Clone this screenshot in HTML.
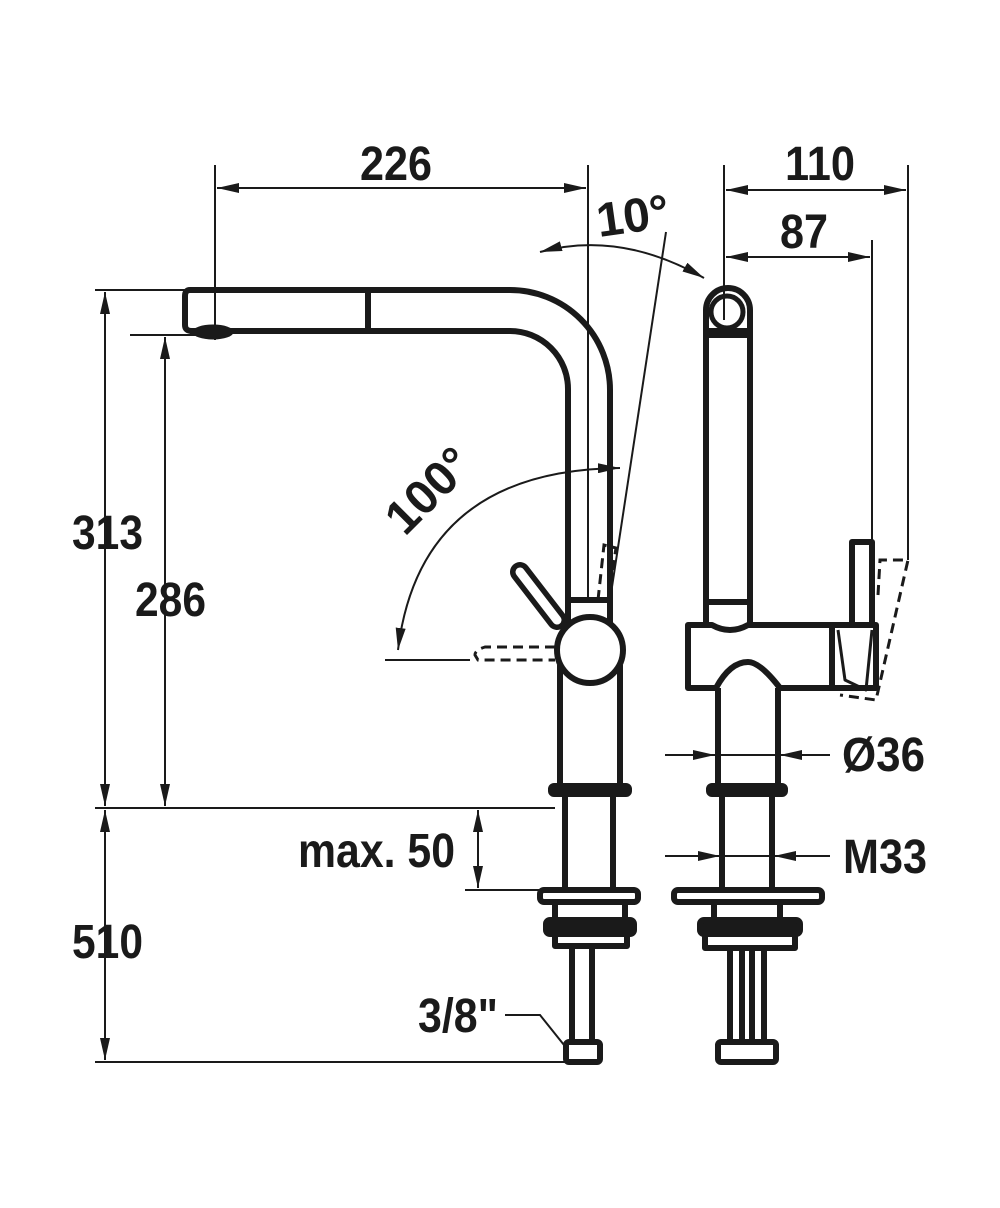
<!DOCTYPE html>
<html><head><style>
body{margin:0;background:#fff}
svg{display:block}
text{font-family:"Liberation Sans",sans-serif;font-weight:bold;fill:#1a1a1a}
</style></head><body>
<svg width="1000" height="1208" viewBox="0 0 1000 1208" xmlns="http://www.w3.org/2000/svg">
<defs>
<marker id="a" viewBox="0 0 22 10" refX="22" refY="5" markerWidth="22" markerHeight="10" markerUnits="userSpaceOnUse" orient="auto-start-reverse"><path d="M0,0 L22,5 L0,10 Z" fill="#1a1a1a"/></marker>
</defs>
<g stroke="#1a1a1a" fill="none">
<g stroke-width="2">
<line x1="215" y1="165" x2="215" y2="340"/>
<line x1="588" y1="165" x2="588" y2="600"/>
<line x1="217" y1="188" x2="586" y2="188" marker-start="url(#a)" marker-end="url(#a)"/>
<line x1="724" y1="165" x2="724" y2="320"/>
<line x1="908" y1="165" x2="908" y2="560"/>
<line x1="872" y1="240" x2="872" y2="540"/>
<line x1="726" y1="190" x2="906" y2="190" marker-start="url(#a)" marker-end="url(#a)"/>
<line x1="726" y1="257" x2="870" y2="257" marker-start="url(#a)" marker-end="url(#a)"/>
<path d="M540,252 Q620,230 704,278" marker-start="url(#a)" marker-end="url(#a)"/>
<line x1="666" y1="232" x2="610" y2="600"/>
<path d="M398,650 Q420,470 620,468" marker-start="url(#a)" marker-end="url(#a)"/>
<line x1="385" y1="660" x2="470" y2="660"/>
<line x1="95" y1="290" x2="185" y2="290"/>
<line x1="95" y1="808" x2="555" y2="808"/>
<line x1="130" y1="335" x2="205" y2="335"/>
<line x1="95" y1="1062" x2="570" y2="1062"/>
<line x1="465" y1="890" x2="540" y2="890"/>
<line x1="105" y1="292" x2="105" y2="806" marker-start="url(#a)" marker-end="url(#a)"/>
<line x1="165" y1="337" x2="165" y2="806" marker-start="url(#a)" marker-end="url(#a)"/>
<line x1="105" y1="810" x2="105" y2="1060" marker-start="url(#a)" marker-end="url(#a)"/>
<line x1="478" y1="810" x2="478" y2="888" marker-start="url(#a)" marker-end="url(#a)"/>
<line x1="665" y1="755" x2="715" y2="755" marker-end="url(#a)"/>
<line x1="830" y1="755" x2="780" y2="755" marker-end="url(#a)"/>
<line x1="715" y1="755" x2="780" y2="755"/>
<line x1="665" y1="856" x2="720" y2="856" marker-end="url(#a)"/>
<line x1="830" y1="856" x2="774" y2="856" marker-end="url(#a)"/>
<line x1="720" y1="856" x2="774" y2="856"/>
<polyline points="505,1015 540,1015 568,1050"/>
</g>
<g stroke-width="3" stroke-dasharray="10,6">
<path d="M555,647 L485,647 Q475,650 475,655 L478,660 L555,660"/>
<path d="M598,600 L604,545 L616,548 L608,600"/>
<path d="M878,595 L880,560 L908,560 L876,700 L840,695"/>
</g>
<g stroke-width="6" stroke-linejoin="round">
<path d="M190,290 L510,290 A100,100 0 0 1 610,390 L610,630"/>
<path d="M190,331 L510,331 A58,58 0 0 1 568,389 L568,632"/>
<path d="M190,290 Q185,290 185,296 L185,325 Q185,331 192,331"/>
<line x1="368" y1="290" x2="368" y2="331"/>
<line x1="570" y1="600" x2="608" y2="600"/>
<path d="M520,572 L557,620" stroke-width="20" stroke-linecap="round"/>
<path d="M520,572 L557,620" stroke="#fff" stroke-width="9" stroke-linecap="round"/>
<circle cx="590" cy="650" r="33" fill="#fff"/>
<path d="M560,665 L560,785 M620,665 L620,785"/>
<rect x="551" y="786" width="78" height="8" rx="3" fill="#1a1a1a"/>
<path d="M565,797 L565,888 M613,797 L613,888"/>
<rect x="540" y="890" width="98" height="12" rx="4" fill="#fff"/>
<path d="M555,905 L555,918 M625,905 L625,918"/>
<rect x="546" y="920" width="88" height="14" rx="4" fill="#1a1a1a"/>
<rect x="555" y="934" width="72" height="12" fill="#fff"/>
<path d="M572,946 L572,1042 M592,946 L592,1042"/>
<rect x="566" y="1042" width="34" height="20" rx="3" fill="#fff"/>
</g>
<ellipse cx="213" cy="332" rx="20" ry="7" fill="#1a1a1a"/>
<g stroke-width="6" stroke-linejoin="round">
<path d="M706,310 A22,22 0 0 1 750,310 L750,625 M706,310 L706,625"/>
<circle cx="727" cy="312" r="16" stroke-width="5"/>
<rect x="708" y="328" width="40" height="10" fill="#1a1a1a" stroke="none"/>
<line x1="708" y1="602" x2="748" y2="602"/>
<path d="M688,625 L712,625 Q730,635 748,625 L876,625 L876,688 L780,688 Q760,662 748,662 Q730,662 716,688 L688,688 Z" fill="#fff"/>
<line x1="832" y1="625" x2="832" y2="688"/>
<rect x="852" y="542" width="20" height="83" fill="#fff"/>
<path d="M838,630 L845,680 L866,690 L872,630" stroke-width="3"/>
<path d="M718,688 L718,785 M778,688 L778,785"/>
<rect x="709" y="786" width="76" height="8" rx="3" fill="#1a1a1a"/>
<path d="M722,797 L722,888 M772,797 L772,888"/>
<rect x="674" y="890" width="148" height="12" rx="4" fill="#fff"/>
<path d="M714,905 L714,918 M780,905 L780,918"/>
<rect x="700" y="920" width="100" height="14" rx="4" fill="#1a1a1a"/>
<rect x="705" y="934" width="90" height="14" fill="#fff"/>
<path d="M730,950 L730,1042 M742,950 L742,1042 M752,950 L752,1042 M764,950 L764,1042"/>
<rect x="718" y="1042" width="58" height="20" rx="3" fill="#fff"/>
</g>
</g>
<g font-size="48">
<text x="360" y="180" textLength="72" lengthAdjust="spacingAndGlyphs">226</text>
<text x="785" y="180" textLength="70" lengthAdjust="spacingAndGlyphs">110</text>
<text x="780" y="248" textLength="48" lengthAdjust="spacingAndGlyphs">87</text>
<text x="635" y="232" text-anchor="middle" transform="rotate(-8 635 232)">10°</text>
<text x="440" y="502" text-anchor="middle" transform="rotate(-45 440 502)">100°</text>
<text x="72" y="549" textLength="71" lengthAdjust="spacingAndGlyphs">313</text>
<text x="135" y="616" textLength="71" lengthAdjust="spacingAndGlyphs">286</text>
<text x="72" y="958" textLength="71" lengthAdjust="spacingAndGlyphs">510</text>
<text x="298" y="867" textLength="157" lengthAdjust="spacingAndGlyphs">max. 50</text>
<text x="842" y="771" textLength="83" lengthAdjust="spacingAndGlyphs">Ø36</text>
<text x="843" y="873" textLength="84" lengthAdjust="spacingAndGlyphs">M33</text>
<text x="418" y="1032" textLength="80" lengthAdjust="spacingAndGlyphs">3/8"</text>
</g>
</svg>
</body></html>
